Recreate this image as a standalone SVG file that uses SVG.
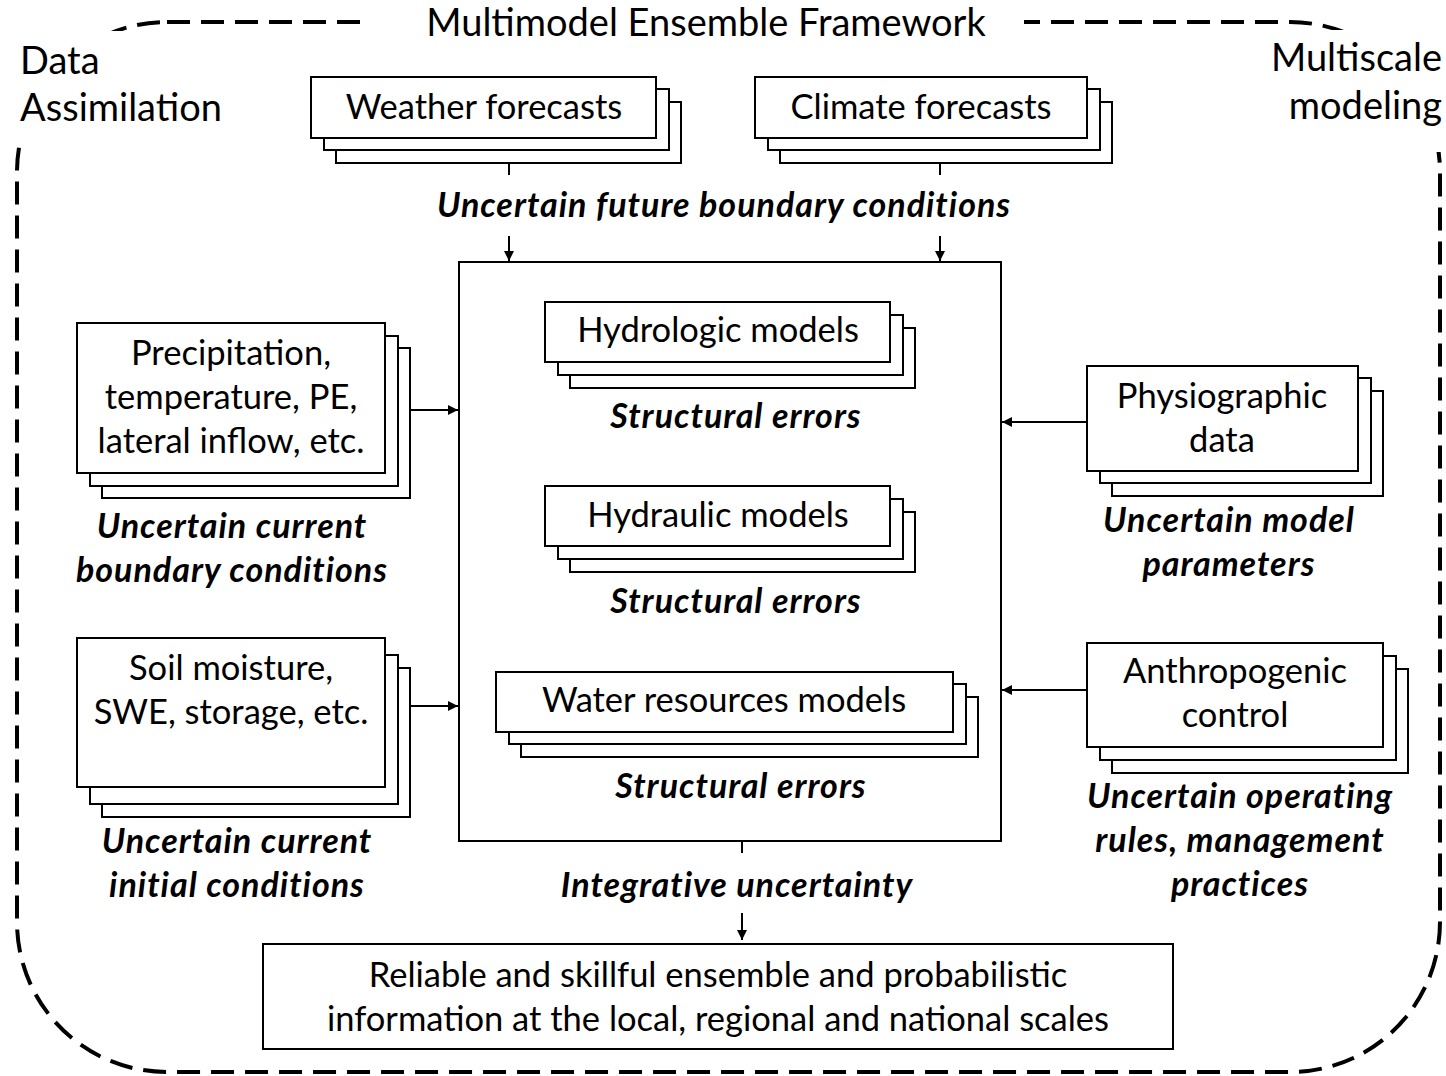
<svg xmlns="http://www.w3.org/2000/svg" width="1446" height="1076" viewBox="0 0 1446 1076">
  <style>
    .box { fill: #fff; stroke: #000; stroke-width: 2; }
    .frame { fill: none; stroke: #000; stroke-width: 4; stroke-dasharray: 23 11; }
    .t { font-family: Lato, "Liberation Sans", sans-serif; font-size: 34.5px; fill: #000; text-anchor: middle; }
    .h { font-family: Lato, "Liberation Sans", sans-serif; font-size: 38px; fill: #000; }
    .b { font-family: Lato, "Liberation Sans", sans-serif; font-size: 34px; letter-spacing: 1px; font-weight: bold; font-style: italic; fill: #000; text-anchor: middle; }
    .c { fill: none; stroke: #000; stroke-width: 2; }
  </style>
  <defs>
    <marker id="arrow" markerUnits="userSpaceOnUse" markerWidth="10" markerHeight="10" viewBox="0 0 10 10" refX="10" refY="5" orient="auto">
      <path d="M0,0 L10,5 L0,10 Z" fill="#000"/>
    </marker>
  </defs>
  <rect width="1446" height="1076" fill="#fff"/>

  <!-- dashed framework outline with gaps for its labels -->
  <g id="framework">
    <rect class="frame" x="17" y="22" width="1423" height="1050" rx="150" ry="150"/>
    <rect x="362" y="0" width="662" height="50" fill="#fff"/>
    <rect x="0" y="31" width="240" height="110" fill="#fff"/>
    <rect x="1255" y="30" width="191" height="122" fill="#fff"/>
    <text class="h" x="706" y="36" text-anchor="middle">Multimodel Ensemble Framework</text>
    <text class="h" x="20" y="74">Data</text>
    <text class="h" x="20" y="121">Assimilation</text>
    <text class="h" x="1442" y="71" text-anchor="end">Multiscale</text>
    <text class="h" x="1442" y="119" text-anchor="end">modeling</text>
  </g>

  <g id="connectors">
    <path class="c" d="M509,163 V175"/>
    <path class="c" d="M509,236 V261" marker-end="url(#arrow)"/>
    <path class="c" d="M940,163 V175"/>
    <path class="c" d="M940,236 V261" marker-end="url(#arrow)"/>
    <path class="c" d="M410,410 H458" marker-end="url(#arrow)"/>
    <path class="c" d="M410,706 H458" marker-end="url(#arrow)"/>
    <path class="c" d="M1087,422 H1002" marker-end="url(#arrow)"/>
    <path class="c" d="M1087,690 H1002" marker-end="url(#arrow)"/>
    <path class="c" d="M742,841 V853"/>
    <path class="c" d="M742,913 V940" marker-end="url(#arrow)"/>
  </g>

  <g id="weather-forecasts">
    <rect class="box" x="336" y="102" width="345" height="61"/>
    <rect class="box" x="324" y="89" width="345" height="61"/>
    <rect class="box" x="311" y="77" width="345" height="61"/>
    <text class="t" x="484" y="119">Weather forecasts</text>
  </g>

  <g id="climate-forecasts">
    <rect class="box" x="780" y="102" width="332" height="61"/>
    <rect class="box" x="768" y="89" width="332" height="61"/>
    <rect class="box" x="755" y="77" width="332" height="61"/>
    <text class="t" x="921" y="119">Climate forecasts</text>
  </g>
  <text class="b" x="724" y="217">Uncertain future boundary conditions</text>

  <g id="precipitation">
    <rect class="box" x="102" y="348" width="308" height="150"/>
    <rect class="box" x="90" y="336" width="308" height="150"/>
    <rect class="box" x="77" y="323" width="308" height="150"/>
    <text class="t" x="231" y="365">Precipitation,</text>
    <text class="t" x="231" y="409">temperature, PE,</text>
    <text class="t" x="231" y="453">lateral inflow, etc.</text>
  </g>
  <text class="b" x="232" y="538">Uncertain current</text>
  <text class="b" x="232" y="582">boundary conditions</text>

  <g id="soil-moisture">
    <rect class="box" x="102" y="668" width="308" height="149"/>
    <rect class="box" x="90" y="655" width="308" height="149"/>
    <rect class="box" x="77" y="638" width="308" height="149"/>
    <text class="t" x="231" y="680">Soil moisture,</text>
    <text class="t" x="231" y="724">SWE, storage, etc.</text>
  </g>
  <text class="b" x="237" y="853">Uncertain current</text>
  <text class="b" x="237" y="897">initial conditions</text>

  <g id="model-chain">
    <rect class="box" x="459" y="262" width="542" height="579"/>
  </g>

  <g id="hydrologic-models">
    <rect class="box" x="570" y="328" width="345" height="60"/>
    <rect class="box" x="558" y="315" width="345" height="60"/>
    <rect class="box" x="545" y="302" width="345" height="60"/>
    <text class="t" x="718" y="342">Hydrologic models</text>
  </g>
  <text class="b" x="736" y="428">Structural errors</text>

  <g id="hydraulic-models">
    <rect class="box" x="570" y="512" width="345" height="60"/>
    <rect class="box" x="558" y="499" width="345" height="60"/>
    <rect class="box" x="545" y="486" width="345" height="60"/>
    <text class="t" x="718" y="527">Hydraulic models</text>
  </g>
  <text class="b" x="736" y="613">Structural errors</text>

  <g id="water-resources-models">
    <rect class="box" x="521" y="697" width="457" height="60"/>
    <rect class="box" x="509" y="684" width="457" height="60"/>
    <rect class="box" x="496" y="672" width="457" height="60"/>
    <text class="t" x="724" y="712">Water resources models</text>
  </g>
  <text class="b" x="741" y="798">Structural errors</text>

  <g id="physiographic-data">
    <rect class="box" x="1112" y="391" width="271" height="105"/>
    <rect class="box" x="1100" y="378" width="271" height="105"/>
    <rect class="box" x="1087" y="366" width="271" height="105"/>
    <text class="t" x="1222" y="408">Physiographic</text>
    <text class="t" x="1222" y="452">data</text>
  </g>
  <text class="b" x="1229" y="532">Uncertain model</text>
  <text class="b" x="1229" y="576">parameters</text>

  <g id="anthropogenic-control">
    <rect class="box" x="1112" y="669" width="296" height="104"/>
    <rect class="box" x="1100" y="656" width="296" height="104"/>
    <rect class="box" x="1087" y="643" width="296" height="104"/>
    <text class="t" x="1235" y="683">Anthropogenic</text>
    <text class="t" x="1235" y="727">control</text>
  </g>
  <text class="b" x="1240" y="808">Uncertain operating</text>
  <text class="b" x="1240" y="852">rules, management</text>
  <text class="b" x="1240" y="896">practices</text>

  <text class="b" x="737" y="897">Integrative uncertainty</text>

  <g id="ensemble-information">
    <rect class="box" x="263" y="944" width="910" height="105"/>
    <text class="t" x="718" y="987">Reliable and skillful ensemble and probabilistic</text>
    <text class="t" x="718" y="1031">information at the local, regional and national scales</text>
  </g>
</svg>
